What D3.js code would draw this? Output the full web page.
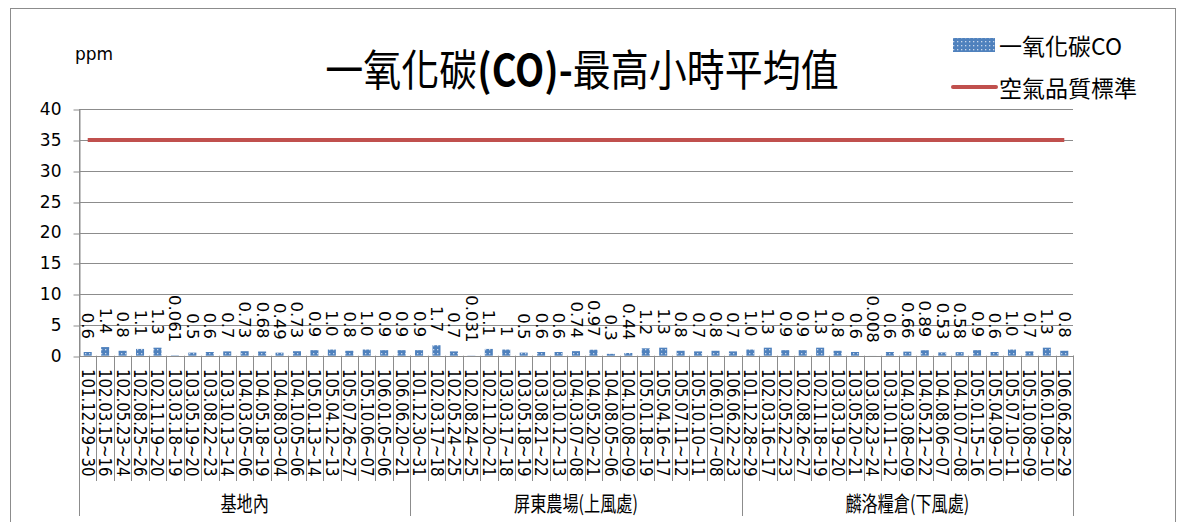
<!DOCTYPE html>
<html><head><meta charset="utf-8">
<script src="https://cdn.jsdelivr.net/npm/d3@7/dist/d3.min.js"></script>
<style>body{margin:0;background:#fff}svg{display:block}</style></head>
<body><svg id="c" width="1179" height="522"></svg>
<script>
const groupNames = ["基地內", "屏東農場(上風處)", "麟洛糧倉(下風處)"];
const dates1 = ["101.12.29~30","102.03.15~16","102.05.23~24","102.08.25~26","102.11.19~20","103.03.18~19","103.05.19~20","103.08.22~23","103.10.13~14","104.03.05~06","104.05.18~19","104.08.03~04","104.10.05~06","105.01.13~14","105.04.12~13","105.07.26~27","105.10.06~07","106.01.05~06","106.06.20~21"];
const dates2 = ["101.12.30~31","102.03.17~18","102.05.24~25","102.08.24~25","102.11.20~21","103.03.17~18","103.05.18~19","103.08.21~22","103.10.12~13","104.03.07~08","104.05.20~21","104.08.05~06","104.10.08~09","105.01.18~19","105.04.16~17","105.07.11~12","105.10.10~11","106.01.07~08","106.06.22~23"];
const dates3 = ["101.12.28~29","102.03.16~17","102.05.22~23","102.08.26~27","102.11.18~19","103.03.19~20","103.05.20~21","103.08.23~24","103.10.11~12","104.03.08~09","104.05.21~22","104.08.06~07","104.10.07~08","105.01.15~16","105.04.09~10","105.07.10~11","105.10.08~09","106.01.09~10","106.06.28~29"];
const values1 = ["0.6","1.4","0.8","1.1","1.3","0.061","0.5","0.6","0.7","0.73","0.68","0.49","0.73","0.9","1.0","0.8","1.0","0.9","0.9"];
const values2 = ["0.9","1.7","0.7","0.031","1.1","1","0.5","0.6","0.6","0.74","0.97","0.3","0.44","1.2","1.3","0.8","0.7","0.8","0.7"];
const values3 = ["1.0","1.3","0.9","0.9","1.3","0.8","0.6","0.008","0.6","0.66","0.89","0.53","0.58","0.9","0.6","1.0","0.7","1.3","0.8"];
const standardValue = 35;
const yTicks = [0, 5, 10, 15, 20, 25, 30, 35, 40];
const seriesName = "一氧化碳CO";
const standardName = "空氣品質標準";
const unitLabel = "ppm";

const dateGroups = [dates1, dates2, dates3];
const valueGroups = [values1, values2, values3];
const rows = [];
dateGroups.forEach((ds, g) => ds.forEach((d, i) => rows.push({group: g, date: d, text: valueGroups[g][i], value: +valueGroups[g][i]})));
const n = rows.length;

const svg = d3.select("#c");
const pLeft = 79, pRight = 1073, pTop = 109.3, pBottom = 355.7;
const gridColor = "#8c8c8c";
const barColor = "#4F81BD";
const lineColor = "#C0504D";
const latin = "'DejaVu Sans', sans-serif";
const cjk = "'Noto Sans CJK TC', 'Noto Sans', sans-serif";

// pattern
const defs = svg.append("defs");
const pat = defs.append("pattern").attr("id","dots").attr("patternUnits","userSpaceOnUse").attr("width",4).attr("height",4);
pat.append("rect").attr("width",4).attr("height",4).attr("fill",barColor);
pat.append("rect").attr("x",1).attr("y",1).attr("width",1.3).attr("height",1.3).attr("fill","#c9d8ec");

// frame
svg.append("rect").attr("x",10.5).attr("y",8.5).attr("width",1165).attr("height",530)
  .attr("fill","none").attr("stroke","#8c8c8c").attr("stroke-width",1);

const x = d3.scaleBand().domain(d3.range(n)).range([pLeft, pRight]).paddingInner(0.54).paddingOuter(0.27);
const xb = d3.scaleBand().domain(d3.range(n)).range([pLeft, pRight]);
const y = d3.scaleLinear().domain([0, 40]).range([pBottom, pTop]);

// gridlines
svg.append("g").selectAll("line").data(yTicks).join("line")
  .attr("x1", pLeft).attr("x2", pRight)
  .attr("y1", d => Math.round(y(d)) + 0.5).attr("y2", d => Math.round(y(d)) + 0.5)
  .attr("stroke", gridColor).attr("stroke-width", 1);

// y axis
const yAxis = svg.append("g").attr("transform", `translate(${pLeft + 0.5},0)`)
  .call(d3.axisLeft(y).tickValues(yTicks).tickSizeInner(6).tickSizeOuter(0).tickPadding(12));
yAxis.select(".domain").attr("stroke", gridColor);
yAxis.selectAll(".tick line").attr("stroke", gridColor).attr("transform", (d) => `translate(0,${Math.round(y(d)) + 0.5 - y(d)})`);
yAxis.selectAll(".tick text").attr("font-family", latin).attr("font-size", 17).attr("fill", "#000");

// category separators
const bounds = d3.range(n).map(i => xb(i)).concat([pRight]);
svg.append("g").selectAll("line").data(bounds).join("line")
  .attr("x1", d => Math.round(d) + 0.5).attr("x2", d => Math.round(d) + 0.5)
  .attr("y1", pBottom).attr("y2", 481)
  .attr("stroke", gridColor);
// group separators
const gBounds = [0, dates1.length, dates1.length + dates2.length].map(i => xb(i)).concat([pRight]);
svg.append("g").selectAll("line").data(gBounds).join("line")
  .attr("x1", d => Math.round(d) + 0.5).attr("x2", d => Math.round(d) + 0.5)
  .attr("y1", (d, i) => i === 0 ? pTop : pBottom).attr("y2", 516)
  .attr("stroke", gridColor);

// group labels
svg.append("g").selectAll("text").data(groupNames).join("text")
  .attr("transform", (d, i) => `translate(${(gBounds[i] + gBounds[i + 1]) / 2},501) scale(0.85,1.1)`)
  .attr("text-anchor", "middle").attr("dominant-baseline", "central")
  .attr("font-family", cjk).attr("font-size", 19).attr("fill", "#000")
  .text(d => d);

// bars
svg.append("g").selectAll("rect").data(rows).join("rect")
  .attr("x", (d, i) => x(i)).attr("width", x.bandwidth())
  .attr("y", d => y(d.value)).attr("height", d => y(0) - y(d.value))
  .attr("fill", "url(#dots)");

// value labels
svg.append("g").selectAll("text").data(rows).join("text")
  .attr("transform", (d, i) => `translate(${x(i) + x.bandwidth() / 2},${y(d.value) - 13}) rotate(90)`)
  .attr("text-anchor", "end").attr("dominant-baseline", "central")
  .attr("font-family", latin).attr("font-size", 16.5).attr("fill", "#000")
  .text(d => d.text);

// category labels
svg.append("g").selectAll("text").data(rows).join("text")
  .attr("transform", (d, i) => `translate(${x(i) + x.bandwidth() / 2},369) rotate(90) scale(0.83,1)`)
  .attr("text-anchor", "start").attr("dominant-baseline", "central")
  .attr("font-family", latin).attr("font-size", 18).attr("fill", "#000")
  .text(d => d.date);

// standard line
const line = d3.line().x(d => d[0]).y(d => d[1]);
svg.append("path")
  .attr("d", line([[x(0) + x.bandwidth() / 2, y(standardValue)], [x(n - 1) + x.bandwidth() / 2, y(standardValue)]]))
  .attr("stroke", lineColor).attr("stroke-width", 4).attr("fill", "none");

// title
const title = svg.append("text").attr("transform", "translate(582,67) scale(1,1.15)")
  .attr("text-anchor", "middle").attr("dominant-baseline", "central")
  .attr("font-family", cjk).attr("font-size", 38).attr("fill", "#000");
title.append("tspan").text("一氧化碳");
title.append("tspan").attr("font-weight", "bold").text("(CO)-");
title.append("tspan").text("最高小時平均值");

// unit
svg.append("text").attr("x", 75).attr("y", 60).attr("font-family", latin).attr("font-size", 17).text(unitLabel);

// legend
svg.append("rect").attr("x", 953).attr("y", 38).attr("width", 42).attr("height", 14).attr("fill", "url(#dots)");
svg.append("text").attr("x", 999).attr("y", 45).attr("dominant-baseline", "central")
  .attr("font-family", cjk).attr("font-size", 23).attr("fill", "#000").text(seriesName);
svg.append("line").attr("x1", 953).attr("x2", 996).attr("y1", 87).attr("y2", 87)
  .attr("stroke", lineColor).attr("stroke-width", 4).attr("stroke-linecap", "round");
svg.append("text").attr("x", 999).attr("y", 87).attr("dominant-baseline", "central")
  .attr("font-family", cjk).attr("font-size", 23).attr("fill", "#000").text(standardName);
</script></body></html>
